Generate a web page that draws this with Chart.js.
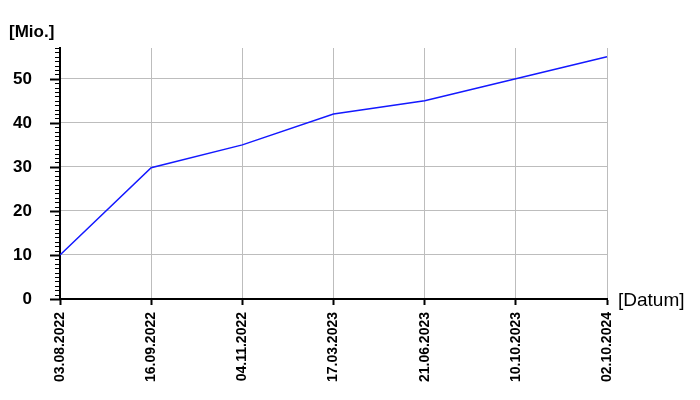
<!DOCTYPE html>
<html>
<head>
<meta charset="utf-8">
<script src="https://cdn.jsdelivr.net/npm/chart.js@4/dist/chart.umd.min.js"></script>
<style>
html,body{margin:0;padding:0;background:#fff;}
#wrap{width:700px;height:400px;position:relative;}
</style>
</head>
<body>
<div id="wrap"><canvas id="c" width="700" height="400"></canvas></div>
<script>
const categories = ["03.08.2022","16.09.2022","04.11.2022","17.03.2023","21.06.2023","10.10.2023","02.10.2024"];
const values = [10, 29.8, 35, 42, 45, 50, 55];
const yTickLabels = [0, 10, 20, 30, 40, 50];
const yAxisTitle = "[Mio.]";
const xAxisTitle = "[Datum]";

const FONT = "'Liberation Sans', Arial, sans-serif";

const extras = {
  id: 'extras',
  afterDraw(chart) {
    const ctx = chart.ctx;
    const y = chart.scales.y;
    const ax = chart.chartArea.left;
    ctx.save();
    ctx.strokeStyle = '#000';
    for (let v = Math.ceil(y.min); v <= y.max; v++) {
      const py = Math.round(y.getPixelForValue(v)) + 0.5;
      const len = (v % 10 === 0) ? 10 : 5;
      ctx.lineWidth = (v % 10 === 0) ? 2 : 1;
      ctx.beginPath();
      ctx.moveTo(ax - len, py);
      ctx.lineTo(ax, py);
      ctx.stroke();
    }
    ctx.fillStyle = '#000';
    ctx.textBaseline = 'alphabetic';
    ctx.textAlign = 'left';
    ctx.font = 'bold 17px ' + FONT;
    ctx.fillText(yAxisTitle, 9, 37);
    ctx.font = 'normal 19px ' + FONT;
    ctx.fillText(xAxisTitle, 618, 306);
    ctx.restore();
  }
};

new Chart(document.getElementById('c'), {
  type: 'line',
  data: {
    labels: categories,
    datasets: [{
      data: values,
      borderColor: 'rgb(20,25,255)',
      borderWidth: 1.5,
      pointRadius: 0,
      tension: 0,
      fill: false
    }]
  },
  options: {
    responsive: false,
    animation: false,
    devicePixelRatio: 1,
    layout: { padding: { left: 0, top: 48, right: 93, bottom: 0 } },
    plugins: { legend: { display: false }, tooltip: { enabled: false } },
    scales: {
      x: {
        type: 'category',
        offset: false,
        afterFit(s) { s.height = 101; },
        grid: { color: '#bdbdbd', lineWidth: 1, drawTicks: true, tickLength: 6, tickColor: '#000', tickWidth: 2 },
        border: { color: '#000', width: 2 },
        ticks: {
          color: '#000',
          font: { family: FONT, size: 14, weight: 'bold' },
          minRotation: 90, maxRotation: 90,
          autoSkip: false,
          padding: 7
        }
      },
      y: {
        min: 0, max: 57,
        afterFit(s) { s.width = 60; },
        afterBuildTicks(s) { s.ticks = yTickLabels.map(v => ({ value: v })); },
        grid: { color: '#bdbdbd', lineWidth: 1, drawTicks: false },
        border: { color: '#000', width: 2 },
        ticks: {
          color: '#000',
          font: { family: FONT, size: 17, weight: 'bold' },
          padding: 28,
          includeBounds: false
        }
      }
    }
  },
  plugins: [extras]
});
</script>
</body>
</html>
